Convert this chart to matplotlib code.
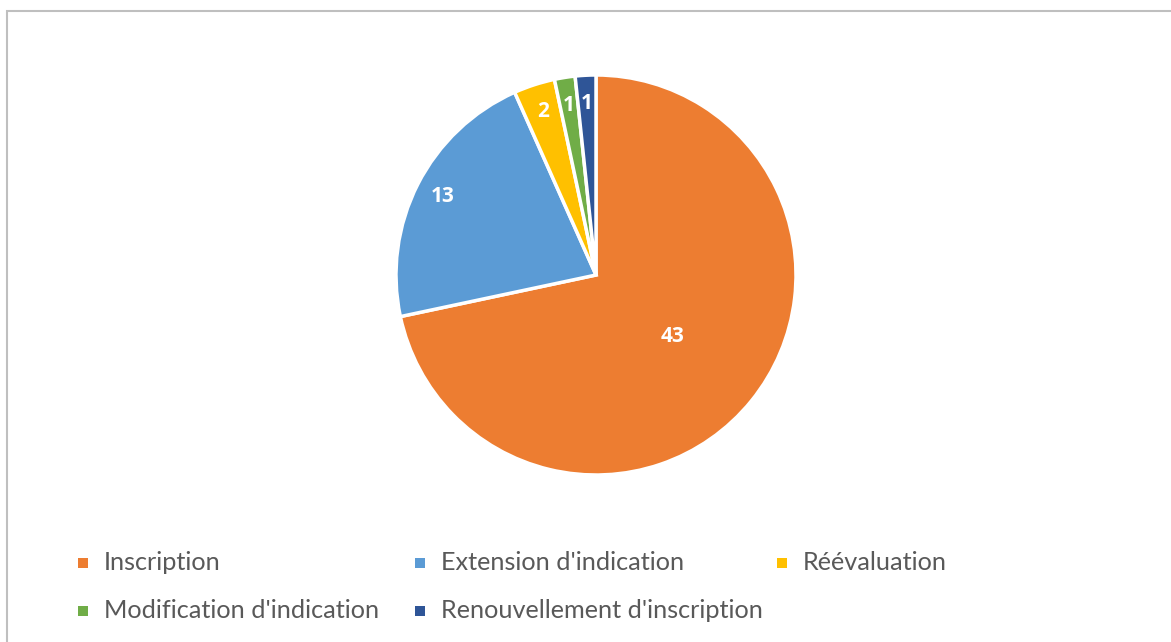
import matplotlib.pyplot as plt
from matplotlib.patches import Rectangle
import numpy as np

plt.rcParams['font.family'] = ['Lato', 'DejaVu Sans']

# Data
categories = ['Inscription', "Extension d'indication", 'Réévaluation',
              "Modification d'indication", "Renouvellement d'inscription"]
values = [43, 13, 2, 1, 1]
colors = ['#ED7D31', '#5B9BD5', '#FFC000', '#70AD47', '#2F5597']

# radial position of each value label (fraction of radius)
label_r = [0.49, 0.86, 0.86, 0.86, 0.86]

fig = plt.figure(figsize=(11.71, 6.42), dpi=100)

# chart frame
fig.patches.append(Rectangle((7 / 1171, -0.1), 1.2, (642 - 11) / 642 + 0.1,
                             transform=fig.transFigure, fill=False,
                             edgecolor='#BFBFBF', linewidth=1.5))

# pie axes: centre (596, 275), radius 200 px
cx, cy, r = 596, 275, 200
ax = fig.add_axes([(cx - r) / 1171, (642 - cy - r) / 642, 2 * r / 1171, 2 * r / 642])
wedges, _ = ax.pie(values, colors=colors, startangle=90, counterclock=False,
                   wedgeprops=dict(edgecolor='white', linewidth=2.5))
ax.set_xlim(-1, 1)
ax.set_ylim(-1, 1)
ax.set_aspect('auto')

total = float(sum(values))
cum = 0
for v, lr in zip(values, label_r):
    mid = 90 - (cum + v / 2) / total * 360
    cum += v
    a = np.deg2rad(mid)
    ax.text(lr * np.cos(a), lr * np.sin(a), str(v), color='white',
            fontsize=15, fontweight='bold', family=['Open Sans', 'DejaVu Sans'],
            ha='center', va='center')

# legend laid out like the original (3 columns, 2 rows)
col_x = [83, 420, 782]
row_y = [563, 611]
for i, (name, c) in enumerate(zip(categories, colors)):
    x = col_x[i % 3]
    y = row_y[i // 3]
    fig.patches.append(Rectangle(((x - 5) / 1171, (642 - y - 5) / 642), 10 / 1171, 10 / 642,
                                 transform=fig.transFigure, facecolor=c, edgecolor='none'))
    fig.text((x + 21) / 1171, (642 - y) / 642, name, fontsize=18.2,
             color='#595959', ha='left', va='center')

fig.savefig('out.png', dpi=100)
